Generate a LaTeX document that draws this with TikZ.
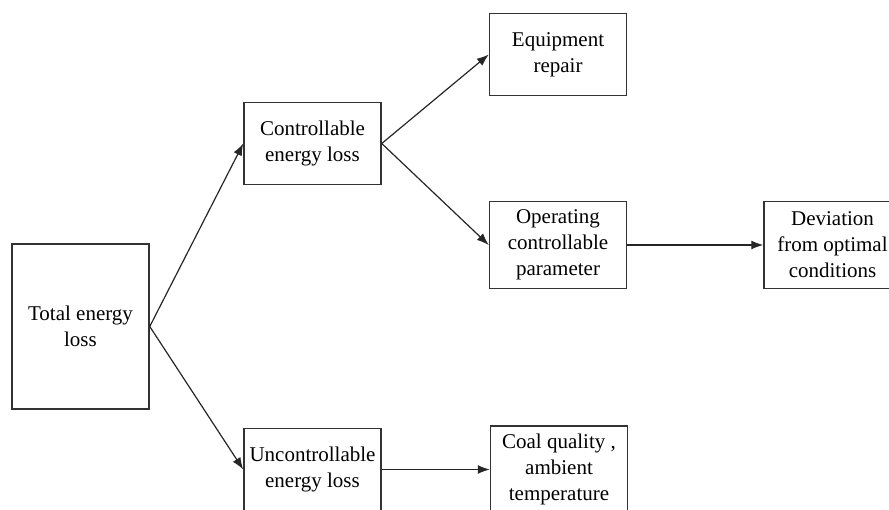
\documentclass[tikz,border=0pt]{standalone}
\usepackage{fontspec}
\setmainfont{Liberation Serif}
\usetikzlibrary{positioning, arrows.meta}
\tikzset{%
  eda/.style={-{Latex[length=12pt, width=9pt]}, line width=1.2pt, color=black!85},
  bx/.style={draw, line width=1.5pt, color=black!80, text=black, align=center,
    inner sep=1pt, minimum width=137pt, minimum height=82pt,
    font=\fontsize{21}{26}\selectfont},
  tall/.style={bx, minimum height=165pt},
  bx3/.style={bx, minimum height=87pt}
}

\begin{document}
\begin{tikzpicture}[x=1pt, y=-1pt]
        \clip (0,0) rectangle (889,510);
        \node[tall] (total)  at (80.5,326.5)          {Total energy\\loss};
        \node[bx]   (ctrl)   at (312.5,143.5)         {Controllable\\energy loss};
        \node[bx]   (unctrl) at (312.5,469.5)         {Uncontrollable\\energy loss};
        \node[bx]   (equip)  at (558,54.5)            {Equipment\\repair};
        \node[bx3]  (oper)   at (558,245)             {Operating\\controllable\\parameter};
        \node[bx3]  (dev)    [right = 136pt of oper]  {Deviation\\from optimal\\conditions};
        \node[bx3]  (coal)   [right = 108pt of unctrl] {Coal quality ,\\ambient\\temperature};
        \path[eda]
        (total.east) edge (ctrl.west)
        (total.east) edge (unctrl.west)
        (ctrl.east)  edge (equip.west)
        (ctrl.east)  edge (oper.west)
        (oper)       edge (dev)
        (unctrl)     edge (coal);
      \end{tikzpicture}
\end{document}
